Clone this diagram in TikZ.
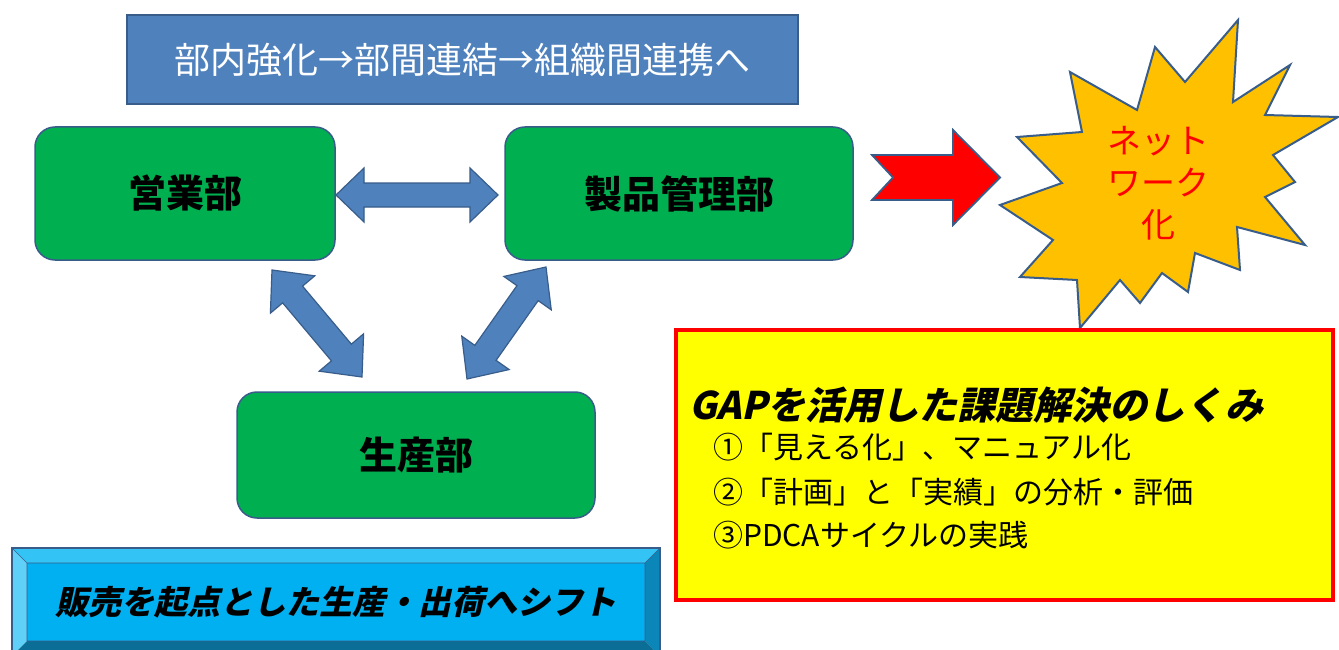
\documentclass[tikz,border=0pt]{standalone}
\usepackage{fontspec}
\setmainfont{Noto Sans CJK JP}
\newfontfamily\jpslant{Noto Sans CJK JP}[FakeSlant=0.22, BoldFeatures={FakeSlant=0.22}]
\usetikzlibrary{calc}
\definecolor{boxblue}{HTML}{4F81BD}
\definecolor{edgeblue}{HTML}{385D8A}
\definecolor{boxgreen}{HTML}{00B050}
\definecolor{starorange}{HTML}{FFC000}
\definecolor{cyanmain}{HTML}{00B0F0}
\definecolor{cyanlight}{HTML}{33C3F5}
\definecolor{cyanlighter}{HTML}{5FD0F7}
\definecolor{cyandark}{HTML}{0A86B8}
\definecolor{cyandarker}{HTML}{0A6E96}
\definecolor{gapyellow}{HTML}{FFFF00}
\definecolor{gapred}{HTML}{FF0000}
\tikzset{
  topbox/.style={draw=edgeblue, fill=boxblue, line width=1.5pt, text=white,
    font=\fontsize{36}{40}\selectfont, minimum width=671pt, minimum height=89pt, inner sep=0pt},
  greenbox/.style={draw=edgeblue, fill=boxgreen, line width=1.5pt, rounded corners=20pt,
    font=\fontsize{38}{42}\selectfont\bfseries, inner sep=0pt},
  blockarrow/.style={draw=edgeblue, fill=boxblue, line width=1.2pt, line join=miter},
  redarrow/.style={draw=edgeblue, fill=gapred, line width=1.8pt, line join=miter},
  starshape/.style={draw=edgeblue, fill=starorange, line width=2pt, line join=miter},
  startext/.style={text=gapred, font=\fontsize{34}{42}\selectfont, align=center, inner sep=0pt},
  yellowbox/.style={draw=gapred, fill=gapyellow, line width=3.5pt, minimum width=657pt, minimum height=270pt, inner sep=0pt},
  gaptitle/.style={anchor=west, font=\fontsize{38}{42}\selectfont\jpslant\bfseries, inner sep=0pt},
  gapitem/.style={anchor=west, font=\fontsize{30}{34}\selectfont, inner sep=0pt},
  shifttext/.style={font=\fontsize{33}{38}\selectfont\jpslant\bfseries, inner sep=0pt},
  beveledge/.style={draw=edgeblue, line width=1.2pt}
}
\newcommand\blockdbl[5]{%
  \coordinate (#1-hb) at ($(#1)!#5!(#2)$);
  \coordinate (#2-hb) at ($(#2)!#5!(#1)$);
  \filldraw[blockarrow] (#1) -- ($(#1-hb)!#4!90:(#2)$) -- ($(#1-hb)!#3!90:(#2)$)
    -- ($(#2-hb)!#3!-90:(#1)$) -- ($(#2-hb)!#4!-90:(#1)$) -- (#2)
    -- ($(#2-hb)!#4!90:(#1)$) -- ($(#2-hb)!#3!90:(#1)$)
    -- ($(#1-hb)!#3!-90:(#2)$) -- ($(#1-hb)!#4!-90:(#2)$) -- cycle;}
\begin{document}
\begin{tikzpicture}[x=1pt,y=-1pt]
\useasboundingbox (0,0) rectangle (1339,650);
\fill[white] (0,0) rectangle (1339,650);

% top banner
\node[topbox] (banner) at (462.5,59.5) {部内強化→部間連結→組織間連携へ};

% department boxes
\node[greenbox, minimum width=300pt, minimum height=133pt] (eigyo) at (185,193.5) {営業部};
\node[greenbox, minimum width=348pt, minimum height=133pt] (seihin) at (679,193.5) {製品管理部};
\node[greenbox, minimum width=358pt, minimum height=126pt] (seisan) at (416,455) {生産部};

% double block arrows
\coordinate (hA) at (336,195);
\coordinate (hB) at (498,195);
\blockdbl{hA}{hB}{12pt}{27pt}{28pt}
\coordinate (lA) at (272,270);
\coordinate (lB) at (362,377);
\blockdbl{lA}{lB}{13pt}{29pt}{32pt}
\coordinate (rA) at (546,267);
\coordinate (rB) at (467,379);
\blockdbl{rA}{rB}{13pt}{29pt}{32pt}

% red notched arrow
\filldraw[redarrow] (872,155) -- (953,155) -- (953,130) -- (1000,177.5) -- (953,225)
  -- (953,200) -- (872,200) -- (893,177.5) -- cycle;

% explosion
\filldraw[starshape] (1238,20) -- (1233,102) -- (1290,65) -- (1265,115) -- (1338,117)
  -- (1273,155) -- (1295,182) -- (1265,197) -- (1305,245) -- (1237,227) -- (1240,270)
  -- (1195,253) -- (1188,292) -- (1162,273) -- (1140,303) -- (1120,280) -- (1080,328)
  -- (1077,280) -- (1020,277) -- (1053,240) -- (1000,205) -- (1062,183) -- (1017,137)
  -- (1082,132) -- (1070,72) -- (1137,110) -- (1155,47) -- (1185,82) -- cycle;
\node[startext] (network) at (1158,183) {ネット\\ワーク\\化};

% GAP box
\node[yellowbox] (gap) at (1004.5,465) {};
\node[gaptitle] (gapt) at (689,405) {GAPを活用した課題解決のしくみ};
\node[gapitem] (gap1) at (713,447) {①「見える化」、マニュアル化};
\node[gapitem] (gap2) at (713,492) {②「計画」と「実績」の分析・評価};
\node[gapitem] (gap3) at (713,535) {③PDCAサイクルの実践};

% bevelled bottom box
\fill[cyanlight] (12,548) -- (660,548) -- (645,563) -- (27,563) -- cycle;
\fill[cyanlighter] (12,548) -- (27,563) -- (27,641) -- (12,656) -- cycle;
\fill[cyandark] (660,548) -- (660,656) -- (645,641) -- (645,563) -- cycle;
\fill[cyandarker] (12,656) -- (660,656) -- (645,641) -- (27,641) -- cycle;
\fill[cyanmain] (27,563) rectangle (645,641);
\draw[beveledge, line width=0.6pt] (12,548) -- (27,563) (660,548) -- (645,563) (27,563) rectangle (645,641);
\draw[beveledge] (12,548) rectangle (660,656);
\node[shifttext] (shift) at (336,602) {販売を起点とした生産・出荷へシフト};
\end{tikzpicture}
\end{document}
